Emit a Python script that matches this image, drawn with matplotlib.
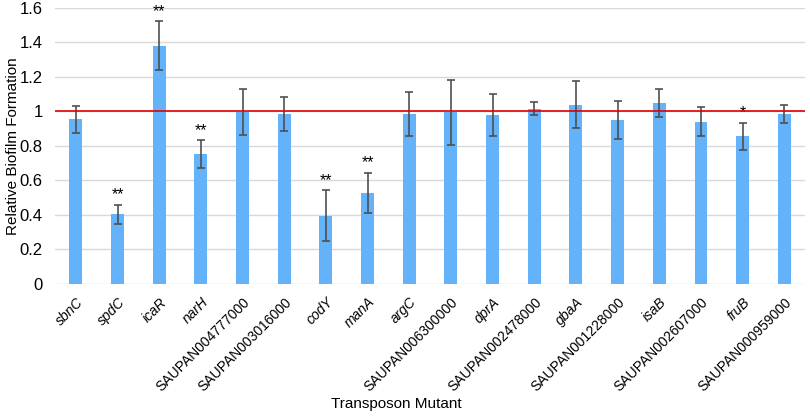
import matplotlib.pyplot as plt
import matplotlib.transforms as mtransforms
import numpy as np

plt.rcParams['font.family'] = ['Liberation Sans', 'DejaVu Sans']

mutants = ['sbnC', 'spdC', 'icaR', 'narH', 'SAUPAN004777000', 'SAUPAN003016000',
           'codY', 'manA', 'argC', 'SAUPAN006300000', 'dprA', 'SAUPAN002478000',
           'gbaA', 'SAUPAN001228000', 'isaB', 'SAUPAN002607000', 'fruB',
           'SAUPAN000959000']
biofilm = [0.954, 0.405, 1.382, 0.753, 0.998, 0.985, 0.395, 0.526, 0.985,
           0.994, 0.979, 1.017, 1.039, 0.948, 1.050, 0.940, 0.855, 0.985]
err = [0.080, 0.055, 0.140, 0.080, 0.135, 0.097, 0.148, 0.117, 0.128,
       0.190, 0.120, 0.040, 0.136, 0.110, 0.082, 0.085, 0.078, 0.050]
signif = ['', '**', '**', '**', '', '', '**', '**', '', '', '', '', '', '',
          '', '', '*', '']

fig = plt.figure(figsize=(8.1, 4.2), dpi=100)
ax = fig.add_axes([0.068, 0.324, 0.926, 0.657])

x = np.arange(len(mutants))
ax.bar(x, biofilm, width=0.31, color='#63b2fa', zorder=2)
ax.errorbar(x, biofilm, yerr=err, fmt='none', ecolor='#505050', elinewidth=1.2,
            capsize=3, capthick=1.2, zorder=3)
ax.axhline(1, color='#e00000', lw=1.2, zorder=4)

# significance stars
for xi, v, e, s in zip(x, biofilm, err, signif):
    if s:
        ax.text(xi, v + e + 0.015, s, ha='center', va='bottom', fontsize=11.5)

ax.set_xlim(-0.5, len(mutants) - 0.5)
ax.set_ylim(0, 1.6)
ax.set_yticks(np.arange(0, 1.61, 0.2))
ax.set_yticklabels(['0', '0.2', '0.4', '0.6', '0.8', '1', '1.2', '1.4', '1.6'],
                   fontsize=12)
ax.yaxis.grid(True, color='#d9d9d9', lw=1)
ax.set_axisbelow(True)
for sp in ax.spines.values():
    sp.set_visible(False)
ax.tick_params(axis='both', length=0)
ax.tick_params(axis='y', pad=9)

ax.set_xticks(x)
labels = ax.set_xticklabels(mutants, rotation=45, ha='right', va='top',
                            rotation_mode='anchor', fontsize=10)
shift = mtransforms.ScaledTranslation(5 / 72, 0, fig.dpi_scale_trans)
for lab in labels:
    lab.set_transform(lab.get_transform() + shift)
    if not lab.get_text().startswith('SAUPAN'):
        lab.set_style('italic')
ax.tick_params(axis='x', pad=8)

ax.set_xlabel('Transposon Mutant', fontsize=11)
ax.xaxis.set_label_coords(0.455, -0.41)
ax.set_ylabel('Relative Biofilm Formation', fontsize=11)
ax.yaxis.set_label_coords(-0.047, 0.5)

fig.savefig('out.png', dpi=100)
